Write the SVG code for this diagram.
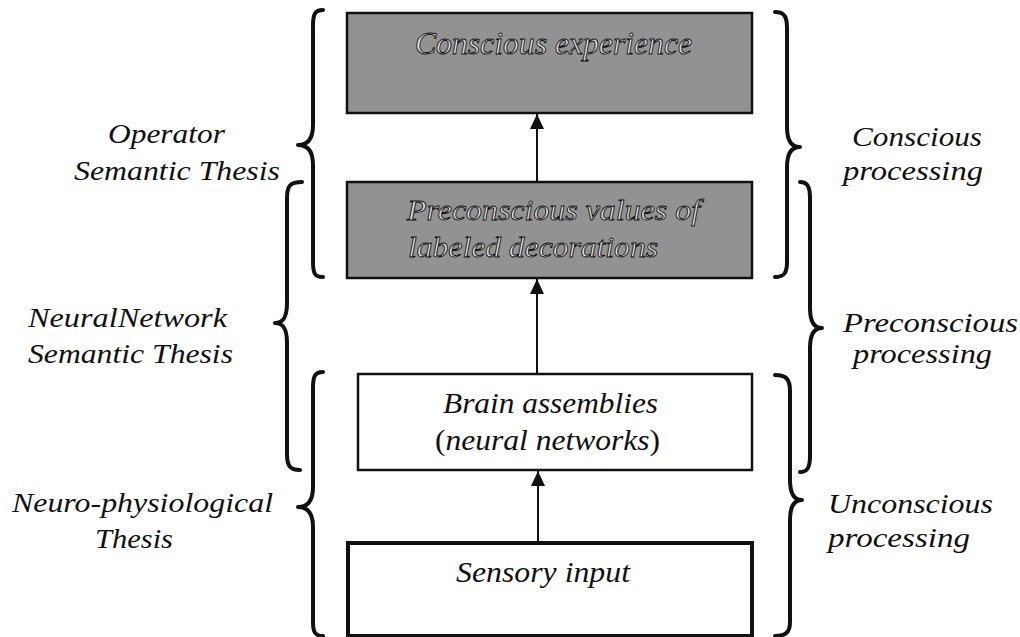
<svg xmlns="http://www.w3.org/2000/svg" width="1020" height="637" viewBox="0 0 1020 637">
<style>
.box{stroke:#111;stroke-width:2.5}
.shaded{fill:#929292}
.plain{fill:#fff}
.thick{stroke-width:4}
.t{font-style:italic;fill:#111}
.side{font-size:28px}
.inbox{font-size:30px}
.big{font-size:32px}
.light{fill:#e4e4e4;stroke:#111;stroke-width:0.9}
.brace{fill:none;stroke:#111;stroke-width:4;stroke-linecap:round;stroke-linejoin:round}
.conn{stroke:#111;stroke-width:2;fill:none}
.up{font-style:normal}
</style>
<defs>
<marker id="arr" markerUnits="userSpaceOnUse" markerWidth="16" markerHeight="16" refX="15" refY="7" orient="auto">
<path d="M0,0 L15,7 L0,14 Z" fill="#111"/>
</marker>
</defs>
<rect width="1020" height="637" fill="#fff"/>

<g id="connectors">
<line class="conn" x1="537" y1="182" x2="537" y2="114" marker-end="url(#arr)"/>
<line class="conn" x1="537" y1="374" x2="537" y2="279" marker-end="url(#arr)"/>
<line class="conn" x1="538" y1="542" x2="538" y2="471" marker-end="url(#arr)"/>
</g>

<g font-family="'Liberation Serif', 'DejaVu Serif', serif">
<g id="node-conscious-experience">
<rect class="box shaded" x="347" y="13" width="405" height="100"/>
<text class="t big light" x="415" y="54" textLength="277" lengthAdjust="spacingAndGlyphs">Conscious experience</text>
</g>
<g id="node-preconscious-values">
<rect class="box shaded" x="347" y="182" width="405" height="96"/>
<text class="t inbox light" x="407" y="220" textLength="293" lengthAdjust="spacingAndGlyphs">Preconscious values of</text>
<text class="t inbox light" x="408" y="257" textLength="250" lengthAdjust="spacingAndGlyphs">labeled decorations</text>
</g>
<g id="node-brain-assemblies">
<rect class="box plain" x="358" y="374" width="394" height="96"/>
<text class="t inbox" x="443" y="413" textLength="215" lengthAdjust="spacingAndGlyphs">Brain assemblies</text>
<text class="t inbox" x="435" y="450" textLength="225" lengthAdjust="spacingAndGlyphs"><tspan class="up">(</tspan>neural networks<tspan class="up">)</tspan></text>
</g>
<g id="node-sensory-input">
<rect class="box plain thick" x="348" y="543" width="404" height="93"/>
<text class="t inbox" x="456" y="582" textLength="174" lengthAdjust="spacingAndGlyphs">Sensory input</text>
</g>

<g id="brace-operator">
<path class="brace" d="M323,10 C315,10 313,14 313,26 L313,125 C313,138 308,145 298,145 C308,145 313,152 313,165 L313,262 C313,274 315,277 323,277"/>
<text class="t side" x="108" y="143" textLength="117" lengthAdjust="spacingAndGlyphs">Operator</text>
<text class="t side" x="74" y="180" textLength="206" lengthAdjust="spacingAndGlyphs">Semantic Thesis</text>
</g>
<g id="brace-neuralnetwork">
<path class="brace" d="M302,182 C290,182 287,186 287,198 L287,303 C287,316 284,323 275,323 C284,323 287,330 287,343 L287,454 C287,466 290,470 300,470"/>
<text class="t side" x="28" y="327" textLength="199" lengthAdjust="spacingAndGlyphs">NeuralNetwork</text>
<text class="t side" x="28" y="363" textLength="205" lengthAdjust="spacingAndGlyphs">Semantic Thesis</text>
</g>
<g id="brace-neurophysiological">
<path class="brace" d="M323,372 C315,372 313,376 313,388 L313,487 C313,500 308,507 298,507 C308,507 313,514 313,527 L313,622 C313,632 315,636 323,636"/>
<text class="t side" x="12" y="512" textLength="261" lengthAdjust="spacingAndGlyphs">Neuro-physiological</text>
<text class="t side" x="95" y="548" textLength="78" lengthAdjust="spacingAndGlyphs">Thesis</text>
</g>
<g id="brace-conscious">
<path class="brace" d="M775,12 C784,12 787,16 787,28 L787,127 C787,140 791,147 800,147 C791,147 787,154 787,167 L787,262 C787,273 784,277 775,277"/>
<text class="t side" x="852" y="146" textLength="130" lengthAdjust="spacingAndGlyphs">Conscious</text>
<text class="t side" x="843" y="180" textLength="140" lengthAdjust="spacingAndGlyphs">processing</text>
</g>
<g id="brace-preconscious">
<path class="brace" d="M800,182 C807,182 810,186 810,198 L810,308 C810,321 814,328 822,328 C814,328 810,335 810,348 L810,456 C810,468 807,472 800,472"/>
<text class="t side" x="843" y="332" textLength="175" lengthAdjust="spacingAndGlyphs">Preconscious</text>
<text class="t side" x="853" y="363" textLength="139" lengthAdjust="spacingAndGlyphs">processing</text>
</g>
<g id="brace-unconscious">
<path class="brace" d="M775,375 C786,375 790,379 790,391 L790,480 C790,493 794,500 802,500 C794,500 790,507 790,520 L790,622 C790,632 786,636 775,636"/>
<text class="t side" x="828" y="513" textLength="165" lengthAdjust="spacingAndGlyphs">Unconscious</text>
<text class="t side" x="828" y="547" textLength="142" lengthAdjust="spacingAndGlyphs">processing</text>
</g>
</g>
</svg>
